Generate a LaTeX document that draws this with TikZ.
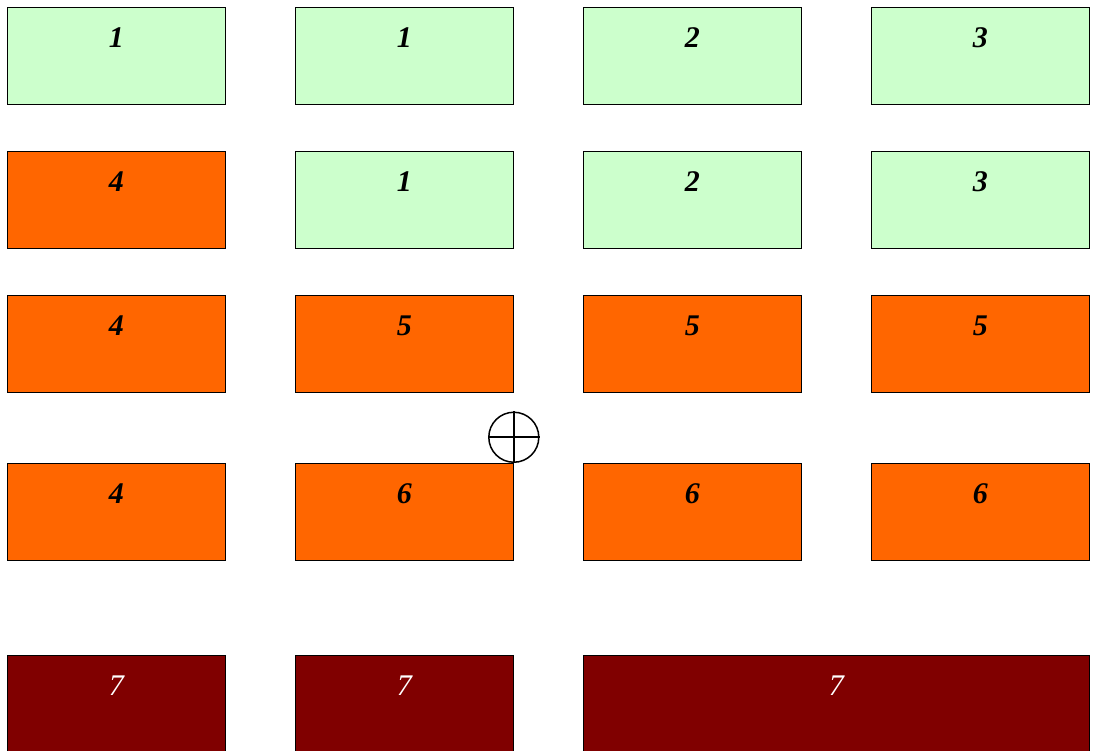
\documentclass[tikz,border=0pt]{standalone}
\usepackage{fontspec}
\setmainfont{Liberation Serif}
\definecolor{cellgreen}{HTML}{CCFFCC}
\definecolor{cellorange}{HTML}{FF6600}
\definecolor{cellmaroon}{HTML}{800000}
\usetikzlibrary{positioning}

\begin{document}
\begin{tikzpicture}[x=1pt, y=-1pt,
  cell/.style={draw, line width=0.8pt, minimum width=218pt, inner sep=0pt,
               text height=40pt, text depth=57pt, anchor=north west,
               font=\fontsize{30}{30}\selectfont\bfseries\itshape},
  lowcell/.style={cell, fill=cellgreen},
  midcell/.style={cell, fill=cellorange},
  topcell/.style={cell, fill=cellmaroon, text=white,
                  font=\fontsize{30}{30}\selectfont\itshape},
  marker/.style={circle, draw, line width=1.5pt, minimum size=50pt, inner sep=0pt},
]
  \useasboundingbox (0,0) rectangle (1096,751);

  % first row
  \node[lowcell] (a1) at (7,7) {1};
  \node[lowcell] (a2) at (295,7) {1};
  \node[lowcell] (a3) at (583,7) {2};
  \node[lowcell] (a4) at (871,7) {3};

  % second row
  \node[midcell] (b1) at (7,151) {4};
  \node[lowcell] (b2) at (295,151) {1};
  \node[lowcell] (b3) at (583,151) {2};
  \node[lowcell] (b4) at (871,151) {3};

  % third row
  \node[midcell] (c1) at (7,295) {4};
  \node[midcell] (c2) at (295,295) {5};
  \node[midcell] (c3) at (583,295) {5};
  \node[midcell] (c4) at (871,295) {5};

  % fourth row
  \node[midcell] (d1) at (7,463) {4};
  \node[midcell] (d2) at (295,463) {6};
  \node[midcell] (d3) at (583,463) {6};
  \node[midcell] (d4) at (871,463) {6};

  % bottom row
  \node[topcell] (e1) at (7,655) {7};
  \node[topcell] (e2) at (295,655) {7};
  \node[topcell, minimum width=506pt] (e3) at (583,655) {7};

  % cross marker on the corner of d2
  \node[marker, above=0pt of d2.north east] (mark) {};
  \draw[line width=1.5pt] (mark.north) -- (mark.south);
  \draw[line width=1.5pt] (mark.west) -- (mark.east);
\end{tikzpicture}
\end{document}
